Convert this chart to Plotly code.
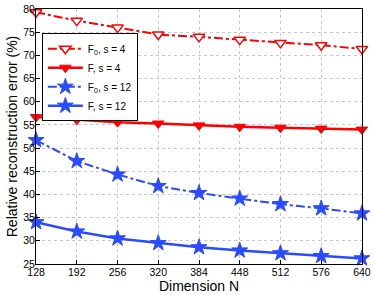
import plotly.graph_objects as go

N = [128, 192, 256, 320, 384, 448, 512, 576, 640]
f0_s4 = [79.3, 77.5, 76.0, 74.5, 74.0, 73.4, 72.7, 72.2, 71.4]
f_s4 = [56.7, 56.1, 55.6, 55.3, 54.9, 54.6, 54.4, 54.2, 54.0]
f0_s12 = [51.7, 47.2, 44.3, 41.8, 40.3, 39.1, 37.9, 37.0, 35.9]
f_s12 = [34.0, 32.0, 30.5, 29.5, 28.6, 27.9, 27.3, 26.7, 26.2]

RED = "#ff0000"
BLUE = "#2a4bff"

fig = go.Figure()
fig.add_trace(go.Scatter(x=N, y=f0_s4, name="F<sub>0</sub>, s = 4", mode="lines+markers",
                         cliponaxis=False,
                         line=dict(color=RED, width=2, dash="dashdot"),
                         marker=dict(symbol="triangle-down", size=10, color="white",
                                     line=dict(color=RED, width=1.5))))
fig.add_trace(go.Scatter(x=N, y=f_s4, name="F, s = 4", mode="lines+markers",
                         cliponaxis=False,
                         line=dict(color=RED, width=2.5),
                         marker=dict(symbol="triangle-down", size=10, color=RED,
                                     line=dict(color=RED, width=1))))
fig.add_trace(go.Scatter(x=N, y=f0_s12, name="F<sub>0</sub>, s = 12", mode="lines+markers",
                         cliponaxis=False,
                         line=dict(color=BLUE, width=2, dash="dashdot"),
                         marker=dict(symbol="star", size=12, color=BLUE,
                                     line=dict(color=BLUE, width=1))))
fig.add_trace(go.Scatter(x=N, y=f_s12, name="F, s = 12", mode="lines+markers",
                         cliponaxis=False,
                         line=dict(color=BLUE, width=2.5),
                         marker=dict(symbol="star", size=12, color=BLUE,
                                     line=dict(color=BLUE, width=1))))

axis_common = dict(showline=True, linecolor="black", linewidth=1, mirror=True,
                   showgrid=True, gridcolor="#c8c8c8", griddash="dot", gridwidth=1,
                   ticks="inside", ticklen=4, tickcolor="black", zeroline=False,
                   ticklabeloverflow="allow",
                   tickfont=dict(family="Liberation Sans, Arial", size=10.5, color="black"))

fig.update_layout(
    width=374, height=295,
    margin=dict(l=36, r=8, t=3, b=31),
    paper_bgcolor="white", plot_bgcolor="white",
    font=dict(family="Liberation Sans, Arial", color="black"),
    xaxis=dict(range=[127.9, 640.1], tickvals=N, ticktext=[str(v) for v in N],
               ticklabelstandoff=-2,
               title=dict(text="Dimension N", font=dict(size=14), standoff=1),
               **axis_common),
    yaxis=dict(range=[24.99, 80.01], tickvals=list(range(25, 81, 5)),
               ticklabelstandoff=-2,
               title=dict(text="Relative reconstruction error (%)", font=dict(size=14), standoff=2),
               **axis_common),
    legend=dict(x=0.018, y=0.905, xanchor="left", yanchor="top",
                bgcolor="white", bordercolor="black", borderwidth=1,
                font=dict(size=10), tracegroupgap=0, itemwidth=35),
    showlegend=True,
)

fig.write_html("out.html", config={"displayModeBar": False},
               post_script="document.body.style.margin='0';document.body.style.overflow='hidden';")
